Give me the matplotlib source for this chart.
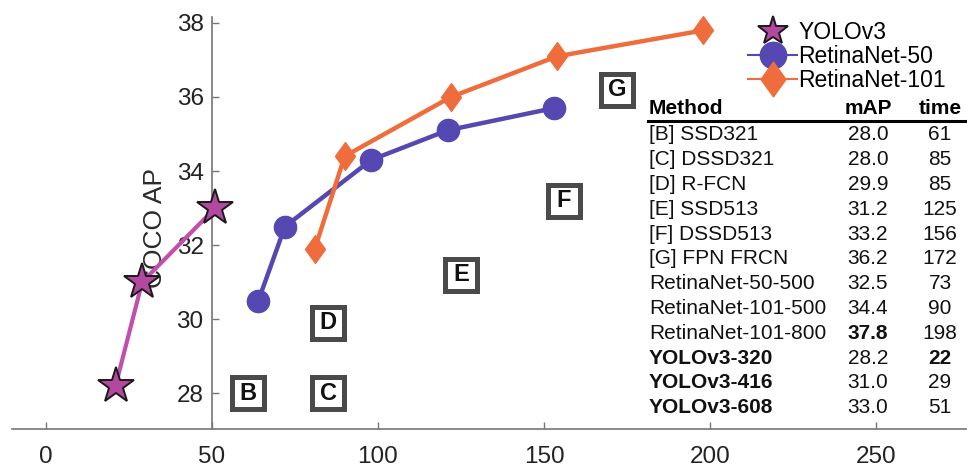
import matplotlib
matplotlib.use("Agg")
import matplotlib.pyplot as plt
from matplotlib.lines import Line2D
from matplotlib.path import Path

plt.rcParams['font.family'] = ['Liberation Sans', 'DejaVu Sans']

# ---- data ----
yolo_x = [21, 29, 51]
yolo_y = [28.2, 31.0, 33.0]
r50_x = [64, 72, 98, 121, 153]
r50_y = [30.5, 32.5, 34.3, 35.1, 35.7]
r101_x = [81, 90, 122, 154, 198]
r101_y = [31.9, 34.4, 36.0, 37.1, 37.8]

box_letters = ['B', 'C', 'D', 'E', 'F', 'G']
box_x = [61, 85, 85, 125, 156, 172]
box_y = [28.0, 28.0, 29.9, 31.2, 33.2, 36.2]

xticks = [0, 50, 100, 150, 200, 250]
yticks = [28, 30, 32, 34, 36, 38]

tbl_methods = ['[B] SSD321', '[C] DSSD321', '[D] R-FCN', '[E] SSD513', '[F] DSSD513',
               '[G] FPN FRCN', 'RetinaNet-50-500', 'RetinaNet-101-500', 'RetinaNet-101-800',
               'YOLOv3-320', 'YOLOv3-416', 'YOLOv3-608']
tbl_map = ['28.0', '28.0', '29.9', '31.2', '33.2', '36.2', '32.5', '34.4', '37.8',
           '28.2', '31.0', '33.0']
tbl_time = ['61', '85', '85', '125', '156', '172', '73', '90', '198', '22', '29', '51']
bold_method = [False] * 9 + [True] * 3
bold_map = [False] * 8 + [True] + [False] * 3
bold_time = [False] * 9 + [True, False, False]

C_YOLO = '#b4479f'
C_YOLO_LINE = '#c04fae'
C_R50 = '#5548b2'
C_R101 = '#ef6d3c'
SPINE = '#7d7373'

W, H = 967, 470
fig = plt.figure(figsize=(W / 100, H / 100), dpi=100)
ax = fig.add_axes([12 / W, 1 - 429 / H, 1 - 12 / W, 429 / H])
ax.set_xlim(-10.2, 277.4)
ax.set_ylim(27.03, 38.62)

diamond = Path([(0, 1), (0.72, 0), (0, -1), (-0.72, 0), (0, 1)],
               [Path.MOVETO, Path.LINETO, Path.LINETO, Path.LINETO, Path.CLOSEPOLY])

# comparison boxes
ax.plot(box_x, box_y, 's', ms=23, mfc='white', mec='#4a4a4a', mew=3.6, zorder=2)
for lx, ly, lt in zip(box_x, box_y, box_letters):
    ax.text(lx, ly, lt, ha='center', va='center', fontsize=17, fontweight='bold',
            color='#111111', zorder=2.5)

ax.plot(yolo_x, yolo_y, '-', color=C_YOLO_LINE, lw=3, marker='*', ms=27,
        mfc=C_YOLO, mec='#1a1a1a', mew=1.4, zorder=4)
ax.plot(r50_x, r50_y, '-', color=C_R50, lw=3.2, marker='o', ms=16,
        mfc=C_R50, mec=C_R50, zorder=3)
ax.plot(r101_x, r101_y, '-', color=C_R101, lw=3.2, marker=diamond, ms=20,
        mfc=C_R101, mec=C_R101, zorder=3)

# axes styling
for s in ['top', 'right']:
    ax.spines[s].set_visible(False)
ax.spines['left'].set_position(('data', 50))
ax.spines['left'].set_bounds(27.03, 38.15)
for s in ['left', 'bottom']:
    ax.spines[s].set_color(SPINE)
    ax.spines[s].set_linewidth(1.2)
ax.set_xticks(xticks)
ax.set_yticks(yticks)
ax.tick_params(axis='both', direction='in', length=5, width=1, color=SPINE,
               labelsize=17.5, labelcolor='#222222')
ax.tick_params(axis='x', pad=12)
ax.tick_params(axis='y', pad=6)
ax.patch.set_visible(False)

ax.text((155 - 12) / (W - 12), (429 - 228) / 429, 'COCO AP', rotation=90,
        ha='center', va='center', fontsize=19, color='#2a2a2a',
        transform=ax.transAxes, zorder=1)

h_yolo = Line2D([], [], linestyle='none', marker='*', ms=22, mfc=C_YOLO,
                mec='#1a1a1a', mew=1.4)
h_r50 = Line2D([], [], color=C_R50, lw=1.5, marker='o', ms=19, mfc=C_R50, mec=C_R50)
h_r101 = Line2D([], [], color=C_R101, lw=1.5, marker=diamond, ms=25, mfc=C_R101, mec=C_R101)
ax.legend(handles=[h_yolo, h_r50, h_r101], labels=['YOLOv3', 'RetinaNet-50', 'RetinaNet-101'],
          loc='upper left', bbox_to_anchor=(748 / W, 1 - 21 / H), bbox_transform=fig.transFigure,
          frameon=False, fontsize=16.5, handlelength=2.15, handletextpad=0.05,
          labelspacing=0.05, borderpad=0, borderaxespad=0)

# table
def fy(py):
    return 1 - py / H

fig.text(649 / W, fy(108), 'Method', ha='left', va='center', fontsize=15, fontweight='bold')
fig.text(868 / W, fy(108), 'mAP', ha='center', va='center', fontsize=15, fontweight='bold')
fig.text(940 / W, fy(108), 'time', ha='center', va='center', fontsize=15, fontweight='bold')
fig.add_artist(Line2D([648 / W, 966 / W], [fy(121), fy(121)], lw=2.2, color='black'))
for i, (m, a, t) in enumerate(zip(tbl_methods, tbl_map, tbl_time)):
    py = 135 + i * 24.8
    fig.text(649 / W, fy(py), m, ha='left', va='center', fontsize=15,
             fontweight='bold' if bold_method[i] else 'normal', color='#111111')
    fig.text(868 / W, fy(py), a, ha='center', va='center', fontsize=15,
             fontweight='bold' if bold_map[i] else 'normal', color='#111111')
    fig.text(940 / W, fy(py), t, ha='center', va='center', fontsize=15,
             fontweight='bold' if bold_time[i] else 'normal', color='#111111')

fig.savefig('out.png', dpi=100, facecolor='white')
